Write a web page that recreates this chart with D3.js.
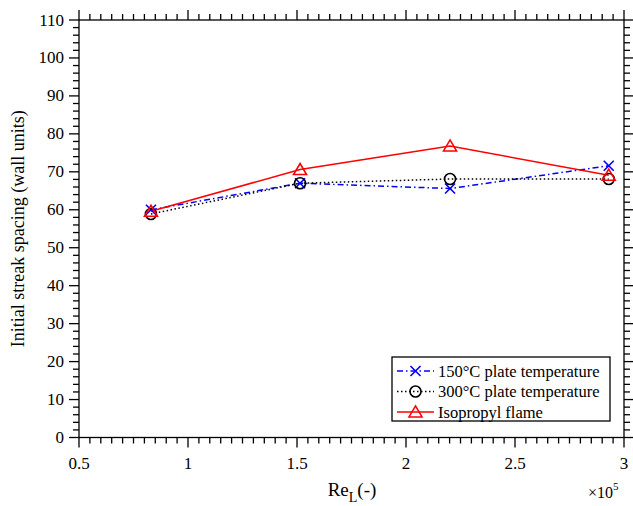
<!DOCTYPE html>
<html><head><meta charset="utf-8">
<script src="https://cdn.jsdelivr.net/npm/d3@7"></script>
<style>body{margin:0;background:#fff}svg{display:block}text{font-family:"Liberation Serif","Times New Roman",serif}</style>
</head><body><svg id="c" width="633" height="506"></svg>
<script>
const reynolds = [0.83, 1.514, 2.202, 2.93];
const plate150 = [60.0, 67.0, 65.6, 71.6];
const plate300 = [58.9, 67.0, 68.1, 68.1];
const isopropyl = [59.6, 70.6, 76.8, 69.1];
const xTicks = [0.5, 1, 1.5, 2, 2.5, 3];
const yTicks = [0,10,20,30,40,50,60,70,80,90,100,110];
const seriesNames = ["150°C plate temperature", "300°C plate temperature", "Isopropyl flame"];

const svg = d3.select("#c");
const L = 79, R = 624, T = 20, B = 437.5;
const x = d3.scaleLinear().domain([0.5, 3]).range([L, R]);
const y = d3.scaleLinear().domain([0, 110]).range([B, T]);

const g = svg.append("g");
g.append("rect").attr("x", L).attr("y", T).attr("width", R-L).attr("height", B-T)
 .attr("fill", "none").attr("stroke", "#000").attr("stroke-width", 1.3);

const xMinor = d3.range(0.5, 3.0001, 0.05);
const yMinor = d3.range(0, 110.0001, 2);
const isMajX = v => xTicks.some(t => Math.abs(t - v) < 1e-6);
const isMajY = v => yTicks.some(t => Math.abs(t - v) < 1e-6);
const tk = g.append("g").attr("stroke", "#000").attr("stroke-width", 1.3);
xMinor.forEach(v => {
  const len = isMajX(v) ? 10 : 6;
  tk.append("line").attr("x1", x(v)).attr("x2", x(v)).attr("y1", B).attr("y2", B+len);
  tk.append("line").attr("x1", x(v)).attr("x2", x(v)).attr("y1", T).attr("y2", T-len);
});
yMinor.forEach(v => {
  const len = isMajY(v) ? 10 : 6;
  tk.append("line").attr("y1", y(v)).attr("y2", y(v)).attr("x1", L).attr("x2", L-len);
  tk.append("line").attr("y1", y(v)).attr("y2", y(v)).attr("x1", R).attr("x2", R+len);
});
xTicks.forEach(v => {
  g.append("text").attr("x", x(v)).attr("y", 469).attr("text-anchor", "middle")
   .attr("font-size", 17).text(d3.format("")(v));
});
yTicks.forEach(v => {
  g.append("text").attr("x", 64).attr("y", y(v)+5.5).attr("text-anchor", "end")
   .attr("font-size", 17).text(v);
});
const xl = g.append("text").attr("x", 352).attr("y", 496).attr("text-anchor", "middle").attr("font-size", 19);
xl.append("tspan").text("Re");
xl.append("tspan").attr("font-size", 14).attr("dy", 6).text("L");
xl.append("tspan").attr("dy", -6).text("(-)");
const ex = g.append("text").attr("x", 588).attr("y", 498).attr("font-size", 16);
ex.append("tspan").text("×10");
ex.append("tspan").attr("font-size", 11).attr("dy", -8).text("5");
g.append("text").attr("transform", "translate(24," + ((T+B)/2) + ") rotate(-90)")
 .attr("text-anchor", "middle").attr("font-size", 18).text("Initial streak spacing (wall units)");

const series = [
  {name: seriesNames[0], vals: plate150, color: "#0000ff", dash: "6,3,1.5,3", marker: "x"},
  {name: seriesNames[1], vals: plate300, color: "#000000", dash: "1.5,2.5", marker: "o"},
  {name: seriesNames[2], vals: isopropyl, color: "#ff0000", dash: null, marker: "t"}
];
function drawMarker(sel, kind, cx, cy, color) {
  if (kind === "x") {
    const s = 5;
    sel.append("path").attr("d", `M${cx-s},${cy-s}L${cx+s},${cy+s}M${cx-s},${cy+s}L${cx+s},${cy-s}`)
      .attr("stroke", color).attr("stroke-width", 1.6).attr("fill", "none");
  } else if (kind === "o") {
    sel.append("circle").attr("cx", cx).attr("cy", cy).attr("r", 5.5)
      .attr("stroke", color).attr("stroke-width", 1.6).attr("fill", "none");
  } else {
    const w = 6.5, h = 11;
    sel.append("path").attr("d", `M${cx},${cy-h*0.55}L${cx+w},${cy+h*0.45}L${cx-w},${cy+h*0.45}Z`)
      .attr("stroke", color).attr("stroke-width", 1.6).attr("fill", "none");
  }
}
const line = d3.line().x((d, i) => x(reynolds[i])).y(d => y(d));
series.forEach(s => {
  g.append("path").attr("d", line(s.vals)).attr("fill", "none").attr("stroke", s.color)
   .attr("stroke-width", 1.5).attr("stroke-dasharray", s.dash);
});
series.forEach(s => {
  s.vals.forEach((v, i) => drawMarker(g, s.marker, x(reynolds[i]), y(v), s.color));
});
const lg = g.append("g");
lg.append("rect").attr("x", 392).attr("y", 357).attr("width", 218).attr("height", 64)
  .attr("fill", "#fff").attr("stroke", "#000").attr("stroke-width", 1.3);
series.forEach((s, i) => {
  const yy = 371 + i * 20.5;
  lg.append("line").attr("x1", 397).attr("x2", 434).attr("y1", yy).attr("y2", yy)
    .attr("stroke", s.color).attr("stroke-width", 1.5).attr("stroke-dasharray", s.dash);
  drawMarker(lg, s.marker, 415.5, yy, s.color);
  lg.append("text").attr("x", 438).attr("y", yy + 5.5).attr("font-size", 16.5).text(s.name);
});
</script></body></html>
